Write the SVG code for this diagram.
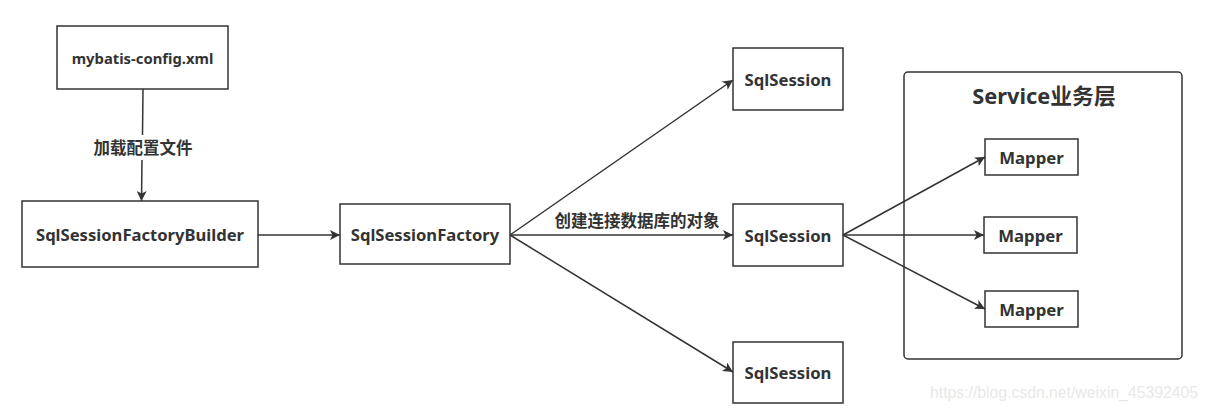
<svg xmlns="http://www.w3.org/2000/svg" width="1210" height="413" viewBox="0 0 1210 413">
<defs>
<marker id="arr" viewBox="0 0 10 10" refX="10" refY="5" markerWidth="10" markerHeight="10" markerUnits="userSpaceOnUse" orient="auto">
<path d="M0,0 L10,5 L0,10 L2.5,5 Z" fill="#333"/>
</marker>
<style>
.box{fill:#fff;stroke:#333;stroke-width:1.5}
.t{font-family:"Noto Sans","Noto Sans CJK SC",sans-serif;font-weight:bold;fill:#333;text-anchor:middle;dominant-baseline:central}
.lbl{font-family:"Noto Sans CJK SC","Noto Sans",sans-serif;font-weight:bold;fill:#333;text-anchor:middle}
.c{stroke:#333;stroke-width:1.5;fill:none}
</style>
</defs>
<rect width="1210" height="413" fill="#fff"/>
<g id="service">
<rect x="904" y="72" width="278" height="287" rx="4" class="box"/>
<text x="1044" y="95" class="t" font-size="21.8">Service业务层</text>
</g>
<g id="config"><rect x="57" y="26" width="171" height="63" class="box"/><text x="142.5" y="57.5" class="t" font-size="14.8">mybatis-config.xml</text></g>
<g id="builder"><rect x="22" y="201" width="236" height="66" class="box"/><text x="140" y="234" class="t" font-size="16.6">SqlSessionFactoryBuilder</text></g>
<g id="factory"><rect x="340" y="204" width="170" height="60" class="box"/><text x="425" y="234" class="t" font-size="16.6">SqlSessionFactory</text></g>
<g id="session1"><rect x="733" y="48" width="110" height="62" class="box"/><text x="788" y="79" class="t" font-size="16.7">SqlSession</text></g>
<g id="session2"><rect x="733" y="204" width="110" height="62" class="box"/><text x="788" y="235" class="t" font-size="16.7">SqlSession</text></g>
<g id="session3"><rect x="733" y="342" width="110" height="61" class="box"/><text x="788" y="372.5" class="t" font-size="16.7">SqlSession</text></g>
<g id="mapper1"><rect x="985" y="139" width="93" height="36" class="box"/><text x="1031.5" y="157" class="t" font-size="16.8">Mapper</text></g>
<g id="mapper2"><rect x="984" y="217" width="93" height="36" class="box"/><text x="1030.5" y="235" class="t" font-size="16.8">Mapper</text></g>
<g id="mapper3"><rect x="985" y="291" width="93" height="36" class="box"/><text x="1031.5" y="309" class="t" font-size="16.8">Mapper</text></g>
<g id="connectors">
<line x1="143" y1="89" x2="142.5" y2="135" class="c"/>
<line x1="142" y1="160" x2="141.5" y2="201" class="c" marker-end="url(#arr)"/>
<text x="143" y="154" class="lbl" font-size="16.5">加载配置文件</text>
<line x1="258" y1="235" x2="340" y2="235" class="c" marker-end="url(#arr)"/>
<line x1="510" y1="235" x2="733" y2="80" class="c" marker-end="url(#arr)"/>
<line x1="510" y1="235" x2="733" y2="235" class="c" marker-end="url(#arr)"/>
<line x1="510" y1="235" x2="733" y2="372" class="c" marker-end="url(#arr)"/>
<text x="637" y="227" class="lbl" font-size="16.5">创建连接数据库的对象</text>
<line x1="843" y1="235" x2="985" y2="157" class="c" marker-end="url(#arr)"/>
<line x1="843" y1="235" x2="984" y2="235" class="c" marker-end="url(#arr)"/>
<line x1="843" y1="235" x2="985" y2="309" class="c" marker-end="url(#arr)"/>
</g>
<text x="930" y="398" font-family="Liberation Sans, sans-serif" font-size="16" fill="#e8e8e8" textLength="268" lengthAdjust="spacingAndGlyphs">https://blog.csdn.net/weixin_45392405</text>
</svg>
